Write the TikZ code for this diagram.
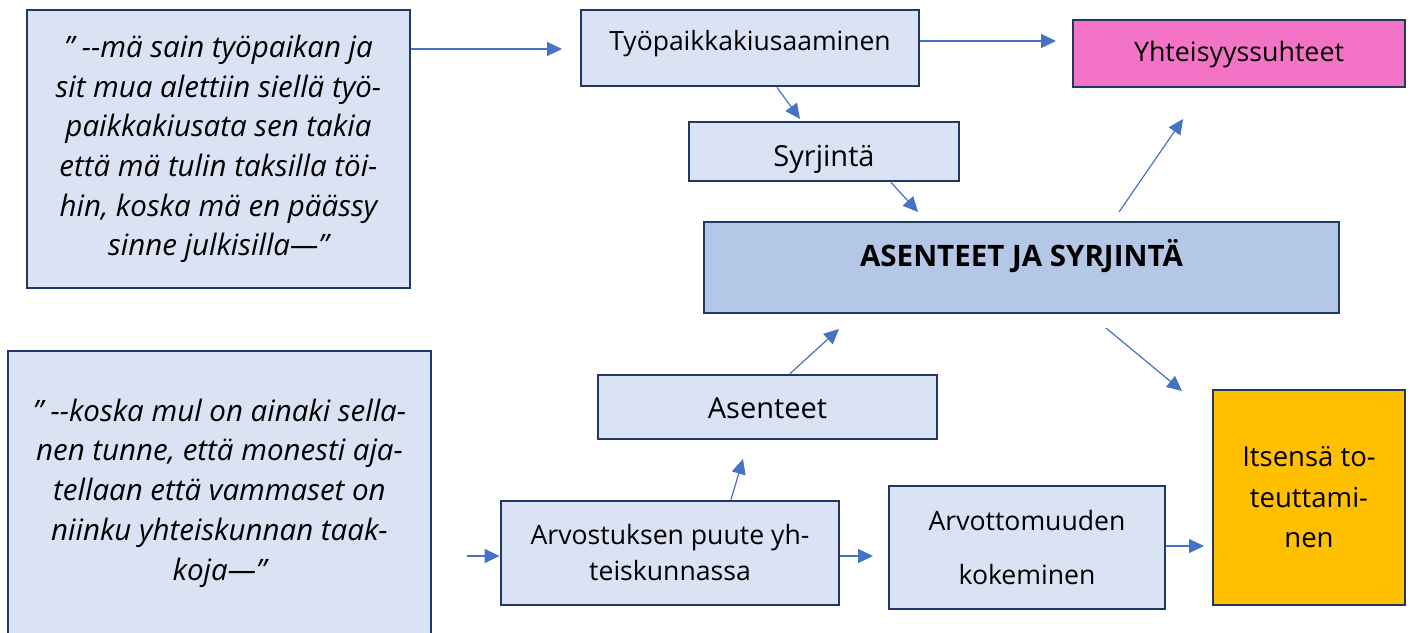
\documentclass[tikz,border=0pt]{standalone}
\usepackage{fontspec}
\setmainfont{Open Sans}
\usetikzlibrary{arrows.meta}
\definecolor{navy}{HTML}{1F3864}
\definecolor{lightfill}{HTML}{DAE3F3}
\definecolor{midfill}{HTML}{B4C7E7}
\definecolor{pinkfill}{HTML}{F374C6}
\definecolor{orangefill}{HTML}{FFC000}
\definecolor{arrowblue}{HTML}{4472C4}
\newcommand{\fs}[2]{\fontsize{#1}{#2}\selectfont}
\begin{document}
\begin{tikzpicture}[x=1pt,y=-1pt,
  box/.style={draw=navy,line width=2.8pt,fill=lightfill,inner sep=0pt,align=center,
    font=\fs{26.5}{40}},
  quote/.style={box,font=\fs{29.5}{39.7}\itshape},
  arr/.style={draw=arrowblue,line width=1.2pt,-{Triangle[length=15pt,width=14pt]}}]
\useasboundingbox (0,0) rectangle (1412,632);
% boxes
\node[quote,minimum width=383,minimum height=278] (q1) at (218.5,149)
  {” {-}{-}mä sain työpaikan ja\\sit mua alettiin siellä työ-\\paikkakiusata sen takia\\että mä tulin taksilla töi-\\hin, koska mä en päässy\\sinne julkisilla—”};
\node[quote,minimum width=423,minimum height=284] (q2) at (219.5,493)
  {” {-}{-}koska mul on ainaki sella-\\nen tunne, että monesti aja-\\tellaan että vammaset on\\niinku yhteiskunnan taak-\\koja—”};
\node[box,minimum width=338,minimum height=76,text height=20pt,text depth=16pt] (tyo) at (750,48) {Työpaikkakiusaaminen};
\node[box,fill=pinkfill,minimum width=332,minimum height=67,text height=19pt,text depth=4pt,font=\fs{26.8}{40}] (yht) at (1239,53.5) {Yhteisyyssuhteet};
\node[box,minimum width=270,minimum height=59,text height=30pt,text depth=1pt,font=\fs{29}{40}] (syr) at (824,151.5) {Syrjintä};
\node[box,fill=midfill,minimum width=635,minimum height=91,text height=21pt,text depth=24pt,font=\fs{29.5}{40}\bfseries] (as) at (1021.5,267.5) {ASENTEET JA SYRJINTÄ};
\node[box,minimum width=339,minimum height=64,text height=23pt,text depth=1pt,font=\fs{29}{40}] (ase) at (767.5,407) {Asenteet};
\node[box,minimum width=338,minimum height=104,font=\fs{26.6}{36}] (arv) at (670,553) {Arvostuksen puute yh-\\teiskunnassa};
\node[box,minimum width=276,minimum height=123,font=\fs{26.6}{40}] (arvt) at (1027,547.5) {Arvottomuuden\\[14pt]kokeminen};
\node[box,fill=orangefill,minimum width=192,minimum height=215,font=\fs{27.5}{40.5}] (its) at (1309,497.5) {Itsensä to-\\teuttami-\\nen};
% free ends
\coordinate (a1e) at (562,49);
\coordinate (a2e) at (1056,41);
\coordinate (a3e) at (800,119);
\coordinate (a4e) at (918,212);
\coordinate (a5s) at (1119,212);
\coordinate (a5e) at (1183,119);
\coordinate (a6s) at (1106,328);
\coordinate (a6e) at (1182,391);
\coordinate (a7e) at (839,329);
\coordinate (a8e) at (743,459);
\coordinate (a9s) at (467,556);
\coordinate (a10e) at (873,556);
\coordinate (a11e) at (1204,546);
% connectors
\draw[arr] (q1.east |- a1e) -- (a1e);
\draw[arr] (tyo.east |- a2e) -- (a2e);
\draw[arr] (tyo.south -| 777,0) -- (a3e);
\draw[arr] (syr.south -| 891,0) -- (a4e);
\draw[arr] (a5s) -- (a5e);
\draw[arr] (a6s) -- (a6e);
\draw[arr] (ase.north -| 790,0) -- (a7e);
\draw[arr] (arv.north -| 731,0) -- (a8e);
\draw[arr] (a9s) -- (arv.west |- a9s);
\draw[arr] (arv.east |- a10e) -- (a10e);
\draw[arr] (arvt.east |- a11e) -- (a11e);
\end{tikzpicture}
\end{document}
